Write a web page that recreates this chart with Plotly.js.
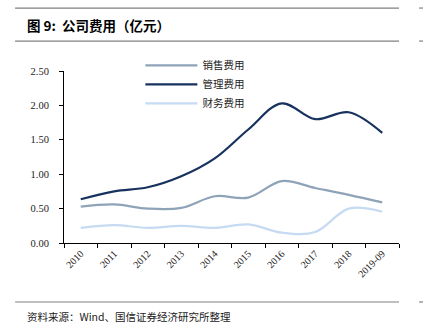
<!DOCTYPE html>
<html>
<head>
<meta charset="utf-8">
<script src="https://cdn.plot.ly/plotly-3.0.1.min.js"></script>
<style>
html,body{margin:0;padding:0;background:#fff;}
#chart{width:423px;height:327px;}
</style>
</head>
<body>
<div id="chart"></div>
<script>
var categories = ["2010","2011","2012","2013","2014","2015","2016","2017","2018","2019-09"];
var salesExpense = [0.53,0.56,0.50,0.51,0.68,0.66,0.90,0.80,0.70,0.59];
var adminExpense = [0.635,0.75,0.81,0.97,1.23,1.65,2.03,1.80,1.90,1.60];
var financeExpense = [0.22,0.26,0.22,0.25,0.22,0.27,0.15,0.16,0.50,0.455];
var seriesNames = ["销售费用","管理费用","财务费用"];
var seriesColors = ["#8FA3B8","#17325E","#C6DAF2"];
var yTicks = [0,0.5,1,1.5,2,2.5];

var serif = "Liberation Serif, DejaVu Serif, serif";
var cjk = "Noto Sans CJK SC, sans-serif";

var allSeries = [salesExpense, adminExpense, financeExpense];
var data = allSeries.map(function(vals, i){
  return {
    x: categories, y: vals, type: "scatter", mode: "lines",
    name: seriesNames[i],
    line: {color: seriesColors[i], width: 2.2, shape: "spline", smoothing: 1},
    hoverinfo: "skip"
  };
});

var lineColor = "#808080";
var layout = {
  width: 423, height: 327,
  margin: {l: 64, r: 24, t: 71, b: 84},
  paper_bgcolor: "#fff", plot_bgcolor: "#fff",
  showlegend: true,
  legend: {
    x: 0.228, y: 1.117, xanchor: "left", yanchor: "top",
    bgcolor: "rgba(0,0,0,0)",
    font: {family: cjk, size: 10.5, color: "#222"},
    itemwidth: 52, tracegroupgap: 0,
    traceorder: "normal"
  },
  xaxis: {
    type: "category", range: [-0.5, 9.5],
    showline: true, linecolor: "#000", linewidth: 1,
    ticks: "outside", ticklen: 4, tickcolor: "#000", tickson: "boundaries",
    tickangle: -45, showgrid: false, zeroline: false,
    tickfont: {family: serif, size: 10, color: "#222"}
  },
  yaxis: {
    range: [0, 2.5], tickvals: yTicks, tickformat: ".2f",
    showline: true, linecolor: "#000", linewidth: 1,
    ticks: "outside", ticklen: 4, tickcolor: "#000",
    showgrid: false, zeroline: false, ticklabelstandoff: 8,
    tickfont: {family: serif, size: 10.5, color: "#222"}
  },
  shapes: [
    {type:"line", xref:"paper", yref:"paper", x0:-0.146, x1:1.0, y0:1.366, y1:1.366, line:{color:lineColor, width:1.2}},
    {type:"line", xref:"paper", yref:"paper", x0:-0.146, x1:1.0, y0:1.174, y1:1.174, line:{color:lineColor, width:1.2}},
    {type:"line", xref:"paper", yref:"paper", x0:1.06, x1:1.08, y0:1.366, y1:1.366, line:{color:lineColor, width:1.2}},
    {type:"line", xref:"paper", yref:"paper", x0:1.06, x1:1.08, y0:1.174, y1:1.174, line:{color:lineColor, width:1.2}},
    {type:"line", xref:"paper", yref:"paper", x0:-0.146, x1:1.0, y0:-0.343, y1:-0.343, line:{color:lineColor, width:1.2}},
    {type:"line", xref:"paper", yref:"paper", x0:1.06, x1:1.08, y0:-0.343, y1:-0.343, line:{color:lineColor, width:1.2}}
  ],
  annotations: [
    {text: "<b>图 9:  公司费用（亿元）</b>", xref:"paper", yref:"paper", x:-0.116, y:1.27,
     xanchor:"left", yanchor:"middle", showarrow:false,
     font:{family: cjk, size: 13.5, color:"#000"}},
    {text: "资料来源：Wind、国信证券经济研究所整理", xref:"paper", yref:"paper", x:-0.116, y:-0.43,
     xanchor:"left", yanchor:"middle", showarrow:false,
     font:{family: cjk, size: 10.5, color:"#222"}}
  ]
};

Plotly.newPlot("chart", data, layout, {displayModeBar: false, staticPlot: true});
</script>
</body>
</html>
